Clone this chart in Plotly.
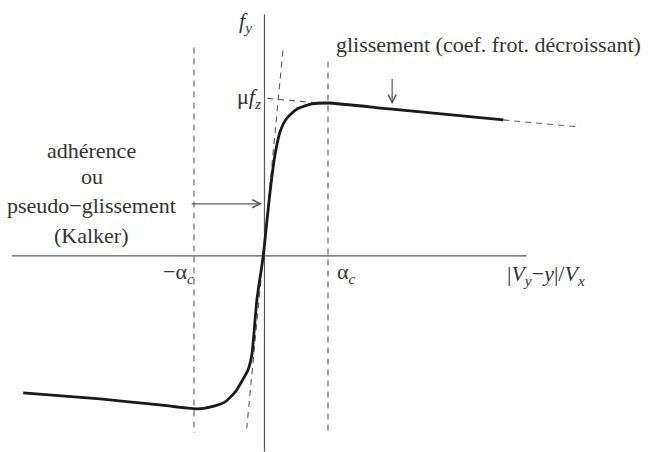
import plotly.graph_objects as go

# Friction curve f_y vs slip (x in units of alpha_c, y in units of mu*f_z)
curve_x = [-3.80, -2.59, -1.65, -1.06, -0.78, -0.62, -0.46, -0.39, -0.26, -0.20,
           -0.12, -0.02, 0.04, 0.10, 0.165, 0.244, 0.354, 0.512, 0.748, 1.00, 2.01, 3.76]
curve_y = [-0.867, -0.905, -0.943, -0.968, -0.949, -0.924, -0.861, -0.816, -0.722, -0.627,
           -0.278, 0.0, 0.228, 0.449, 0.639, 0.785, 0.873, 0.930, 0.962, 0.968, 0.929, 0.861]

# sliding asymptote (dashed), extended back to the f_y axis and past the curve end
asym_left_x = [0.04, 1.00]
asym_left_y = [0.998, 0.962]
asym_right_x = [3.76, 4.97]
asym_right_y = [0.861, 0.816]

# tangent at the origin
tangent_x = [0.29, -0.28]
tangent_y = [1.30, -1.09]

# critical slip lines
alpha_neg = -1.11
alpha_pos = 1.00
alpha_neg_y = [1.32, -1.12]
alpha_pos_y = [1.23, -1.12]

# axes extents
x_axis = [-3.98, 4.13]
y_axis = [-1.24, 1.53]

serif = "Liberation Serif, Times New Roman, serif"
grey = "#5a5a5a"

fig = go.Figure()

fig.add_trace(go.Scatter(x=x_axis, y=[0, 0], mode="lines",
                         line=dict(color=grey, width=1.2), hoverinfo="skip"))
fig.add_trace(go.Scatter(x=[0, 0], y=y_axis, mode="lines",
                         line=dict(color=grey, width=1.2), hoverinfo="skip"))

dash = dict(color=grey, width=1.1, dash="6px,5px")
fig.add_trace(go.Scatter(x=[alpha_neg, alpha_neg], y=alpha_neg_y, mode="lines", line=dash))
fig.add_trace(go.Scatter(x=[alpha_pos, alpha_pos], y=alpha_pos_y, mode="lines", line=dash))
fig.add_trace(go.Scatter(x=tangent_x, y=tangent_y, mode="lines", line=dash))
fig.add_trace(go.Scatter(x=asym_left_x, y=asym_left_y, mode="lines", line=dash))
fig.add_trace(go.Scatter(x=asym_right_x, y=asym_right_y, mode="lines", line=dash))

fig.add_trace(go.Scatter(x=curve_x, y=curve_y, mode="lines",
                         line=dict(color="#1a1a1a", width=2.8, shape="spline", smoothing=0.6)))

txt = dict(family=serif, size=22, color="#333333")

def label(x, y, text, anchor="center"):
    fig.add_annotation(x=x, y=y, text=text, showarrow=False, xanchor=anchor,
                       yanchor="middle", font=txt)

label(-0.30, 1.48, "<i>f<sub>y</sub></i>")
label(-0.03, 1.00, "μ<i>f<sub>z</sub></i>", anchor="right")
label(3.52, 1.34, "glissement (coef. frot. décroissant)")
label(-2.72, 0.67, "adhérence")
label(-2.72, 0.50, "ou")
label(-2.72, 0.32, "pseudo−glissement")
label(-2.72, 0.13, "(Kalker)")
label(-1.36, -0.11, "−α<sub><i>c</i></sub>")
label(1.11, -0.11, "α<sub><i>c</i></sub>", anchor="left")
label(3.79, -0.12, "|<i>V<sub>y</sub></i>−<i>y</i>|/<i>V<sub>x</sub></i>", anchor="left")

arrow = dict(showarrow=True, arrowhead=5, arrowsize=1.3, arrowwidth=1.2,
             arrowcolor=grey, axref="x", ayref="y", text="")
fig.add_annotation(x=2.01, y=0.96, ax=2.01, ay=1.13, **arrow)
fig.add_annotation(x=-0.04, y=0.33, ax=-1.17, ay=0.33, **arrow)

fig.update_layout(
    width=648, height=452,
    margin=dict(l=0, r=0, t=0, b=0),
    paper_bgcolor="white", plot_bgcolor="white",
    showlegend=False,
    xaxis=dict(visible=False, range=[-4.165, 6.039], fixedrange=True),
    yaxis=dict(visible=False, range=[-1.241, 1.620], fixedrange=True),
)

# drop the default body margin so the figure sits at the page corner
fig.write_html("out.html", config={"displayModeBar": False},
               post_script="document.body.style.margin='0';")
